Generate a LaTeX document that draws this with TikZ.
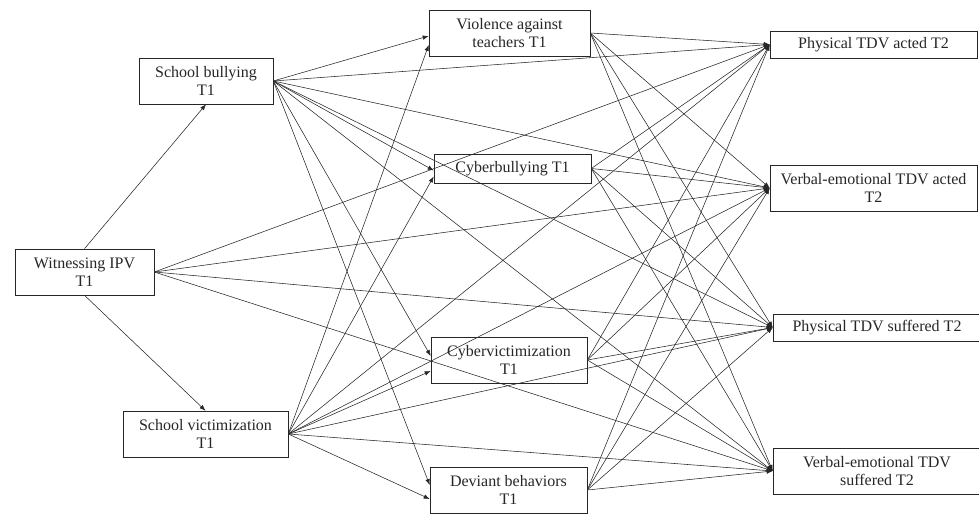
\documentclass[tikz,border=0pt]{standalone}
\usepackage{fontspec}
\setmainfont{Liberation Serif}
\usetikzlibrary{arrows.meta}
\begin{document}
\begin{tikzpicture}[x=1pt,y=-1pt,
  box/.style={draw=black!85, line width=0.6pt, align=center, inner sep=0pt,
    font=\fontsize{16}{18.5}\selectfont, text=black!85},
  link/.style={draw=black!85, line width=0.55pt, -{Latex[length=6pt,width=4.5pt]}}]
\useasboundingbox (0,0) rectangle (979,514);
% first column
\node[box, minimum width=134, minimum height=46] (sb) at (206,81) {School bullying\\T1};
\node[box, minimum width=139, minimum height=46] (wipv) at (84.5,272) {Witnessing IPV\\T1};
\node[box, minimum width=165, minimum height=46] (sv) at (205.5,434) {School victimization\\T1};
% mediators
\node[box, minimum width=161, minimum height=46] (vat) at (509.5,33) {Violence against\\teachers T1};
\node[box, minimum width=157, minimum height=29] (cb) at (512.5,168.5) {Cyberbullying T1};
\node[box, minimum width=156, minimum height=46] (cv) at (509,360) {Cybervictimization\\T1};
\node[box, minimum width=157, minimum height=46] (db) at (508.5,490) {Deviant behaviors\\T1};
% outcomes
\node[box, minimum width=207, minimum height=27] (pa) at (873.5,44.5) {Physical TDV acted T2};
\node[box, minimum width=207, minimum height=46] (va) at (873.5,188) {Verbal-emotional TDV acted\\T2};
\node[box, minimum width=208, minimum height=27] (ps) at (877,327.5) {Physical TDV suffered T2};
\node[box, minimum width=208, minimum height=46] (vs) at (877,471) {Verbal-emotional TDV\\suffered T2};
% witnessing IPV
\draw[link] (wipv.north) -- (sb.south);
\draw[link] (wipv.south) -- (sv.north);
\foreach \t in {pa,va,ps,vs} \draw[link] (wipv.east) -- (\t.west);
% school bullying to mediators
\draw[link] (sb.east) -- ([yshift=-3pt]vat.west);
\draw[link] (sb.east) -- ([yshift=-2pt]cb.west);
\draw[link] (sb.east) -- ([yshift=4pt]cv.west);
\draw[link] (sb.east) -- ([yshift=5pt]db.west);
% school victimization to mediators
\draw[link] (sv.east) -- ([yshift=-12pt]vat.west);
\draw[link] (sv.east) -- ([yshift=-8pt]cb.west);
\draw[link] (sv.east) -- ([yshift=-11pt]cv.west);
\draw[link] (sv.east) -- ([yshift=-9pt]db.west);
% first column to outcomes
\foreach \s in {sb,sv}{
  \foreach \t in {pa,va,ps,vs} \draw[link] (\s.east) -- (\t.west);
}
% mediators
\foreach \s in {vat,cb,cv,db}{
  \foreach \t in {pa,va,ps,vs} \draw[link] (\s.east) -- (\t.west);
}
\end{tikzpicture}
\end{document}
